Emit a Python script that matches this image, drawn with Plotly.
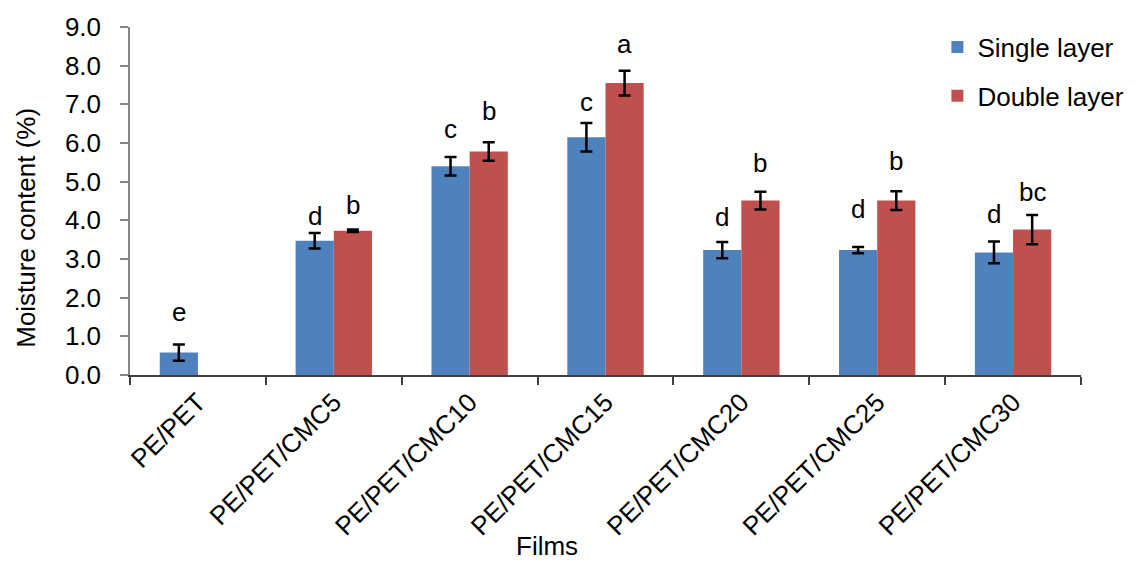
import plotly.graph_objects as go

# ---- data ----
films = ["PE/PET", "PE/PET/CMC5", "PE/PET/CMC10", "PE/PET/CMC15",
         "PE/PET/CMC20", "PE/PET/CMC25", "PE/PET/CMC30"]
single_layer = [0.58, 3.47, 5.40, 6.15, 3.23, 3.23, 3.17]
single_err = [0.21, 0.20, 0.24, 0.37, 0.21, 0.08, 0.28]
double_layer = [None, 3.73, 5.78, 7.55, 4.51, 4.51, 3.76]
double_err = [None, 0.03, 0.24, 0.32, 0.23, 0.24, 0.38]
single_letters = ["e", "d", "c", "c", "d", "d", "d"]
double_letters = ["", "b", "b", "a", "b", "b", "bc"]
single_letter_y = [1.64, 4.10, 6.37, 7.07, 4.08, 4.29, 4.17]
double_letter_y = [None, 4.39, 6.83, 8.55, 5.48, 5.53, 4.72]
y_ticks = [0, 1, 2, 3, 4, 5, 6, 7, 8, 9]

FONT = "Liberation Sans, Arial, sans-serif"
BLUE = "#4F81BD"
RED = "#C0504D"

fig = go.Figure()
fig.add_trace(go.Bar(
    x=films, y=single_layer, name="Single layer", legendgroup="s",
    marker=dict(color=BLUE, line=dict(width=0)),
    error_y=dict(type="data", array=single_err, color="black", thickness=2.5, width=6),
))
fig.add_trace(go.Bar(
    x=films, y=double_layer, name="Double layer", legendgroup="d",
    marker=dict(color=RED, line=dict(width=0)),
    error_y=dict(type="data", array=double_err, color="black", thickness=2.5, width=6),
))

off = 0.1408
annotations = []
for i, (t, yv) in enumerate(zip(single_letters, single_letter_y)):
    if t:
        annotations.append(dict(x=i - off, y=yv, xref="x", yref="y", text=t,
                                showarrow=False, yanchor="middle",
                                font=dict(size=26, color="black", family=FONT)))
for i, (t, yv) in enumerate(zip(double_letters, double_letter_y)):
    if t and yv is not None:
        annotations.append(dict(x=i + off, y=yv, xref="x", yref="y", text=t,
                                showarrow=False, yanchor="middle",
                                font=dict(size=26, color="black", family=FONT)))
annotations.append(dict(x=0.438, y=-0.49, xref="paper", yref="paper", text="Films",
                        showarrow=False, xanchor="center", yanchor="middle",
                        font=dict(size=26, color="black", family=FONT)))
annotations.append(dict(x=-0.1087, y=0.422, xref="paper", yref="paper",
                        text="Moisture content (%)", textangle=-90,
                        showarrow=False, xanchor="center", yanchor="middle",
                        font=dict(size=26, color="black", family=FONT)))

fig.update_layout(
    width=1141, height=562,
    margin=dict(l=130, r=54, t=22, b=187),
    paper_bgcolor="white", plot_bgcolor="white",
    font=dict(family=FONT, size=26, color="black"),
    barmode="group", bargap=0.438, bargroupgap=0,
    showlegend=True,
    legend=dict(x=0.849, y=1.01, xanchor="left", yanchor="top",
                font=dict(size=26, color="black", family=FONT),
                tracegroupgap=12, bgcolor="rgba(0,0,0,0)"),
    annotations=annotations,
)
fig.update_xaxes(
    showline=True, linecolor="#404040", linewidth=1.5,
    ticks="outside", ticklen=8, tickwidth=1.5, tickcolor="#404040",
    tickson="boundaries", tickangle=-45,
    tickfont=dict(size=26, color="black", family=FONT),
    showgrid=False, zeroline=False,
)
fig.update_yaxes(
    range=[0, 9], tickvals=y_ticks, tickformat=".1f",
    showline=True, linecolor="#868686", linewidth=1.5,
    ticks="outside", ticklen=8, tickwidth=1.5, tickcolor="#868686",
    ticklabelstandoff=14,
    tickfont=dict(size=26, color="black", family=FONT),
    showgrid=False, zeroline=False,
)

fig.write_html("out.html")
